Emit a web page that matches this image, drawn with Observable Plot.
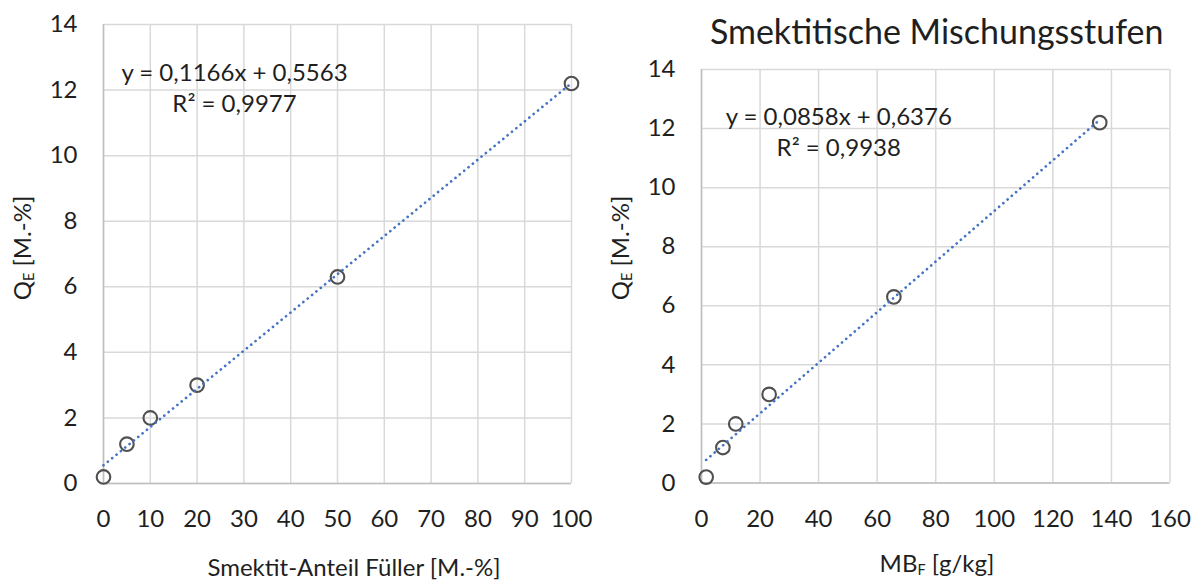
<!DOCTYPE html>
<html><head><meta charset="utf-8">
<script src="https://cdn.jsdelivr.net/npm/d3@7"></script>
<script src="https://cdn.jsdelivr.net/npm/@observablehq/plot@0.6"></script>
<style>
body{margin:0;background:#fff;font-family:Lato,"Open Sans",sans-serif;}
#wrap{position:relative;width:1199px;height:580px;overflow:hidden;background:#fff;}
.panel{position:absolute;top:0;}
.lbl{position:absolute;color:#1f1f1f;font-size:24px;white-space:nowrap;transform:translate(-50%,-50%);line-height:1;}
.ylbl{transform:translate(-50%,-50%) rotate(-90deg);}
.title{font-size:34px;}
sub{font-size:60%;vertical-align:-0.2em;line-height:0;}
</style></head><body>
<div id="wrap"></div>
<script>
// ---- data ----
const qE = [0.2, 1.2, 2.0, 3.0, 6.3, 12.2];
const smektitAnteil = [0, 5, 10, 20, 50, 100];
const mbF = [1.6, 7.3, 11.7, 23.1, 65.7, 136.0];
const yTicks = [0, 2, 4, 6, 8, 10, 12, 14];
const leftXTicks = [0, 10, 20, 30, 40, 50, 60, 70, 80, 90, 100];
const rightXTicks = [0, 20, 40, 60, 80, 100, 120, 140, 160];
const leftEq = ["y = 0,1166x + 0,5563", "R² = 0,9977"];
const rightEq = ["y = 0,0858x + 0,6376", "R² = 0,9938"];
const titleText = "Smektitische Mischungsstufen";
const leftXTitle = "Smektit-Anteil Füller [M.-%]";

const leftData = smektitAnteil.map((x, i) => ({x, y: qE[i]}));
const rightData = mbF.map((x, i) => ({x, y: qE[i]}));

const TXT = "#1f1f1f";
function panel({data, xDomain, xTicks, eq, width, mL, mR, mT, mB, eqDx, eqDy}) {
  return Plot.plot({
    width, height: 580,
    marginLeft: mL, marginRight: mR, marginTop: mT, marginBottom: mB,
    style: {fontFamily: "Lato, 'Open Sans', sans-serif", fontSize: "24px", color: TXT, background: "transparent"},
    x: {domain: xDomain, ticks: xTicks, tickSize: 0, tickPadding: 26.5, label: null},
    y: {domain: [0, 14], ticks: yTicks, tickSize: 0, tickPadding: 26, label: null},
    marks: [
      Plot.ruleX(xTicks, {stroke: "#d9d9d9", strokeWidth: 1.5}),
      Plot.ruleY(yTicks, {stroke: "#d9d9d9", strokeWidth: 1.5}),
      Plot.ruleX([xDomain[0]], {stroke: "#bfbfbf", strokeWidth: 1.5}),
      Plot.ruleY([0], {stroke: "#bfbfbf", strokeWidth: 1.5}),
      Plot.dot(data, {x: "x", y: "y", r: 6.8, stroke: "#505050", strokeWidth: 2.1, fill: "none"}),
      Plot.linearRegressionY(data, {x: "x", y: "y", ci: 0, stroke: "#4472c4", strokeWidth: 2.7, strokeLinecap: "round", strokeDasharray: "0.01,5.6"}),
      Plot.text([eq.join("\n")], {text: d => d, frameAnchor: "top", lineAnchor: "middle", dx: eqDx, dy: eqDy, lineHeight: 1.32, fontSize: 24, fill: TXT})
    ]
  });
}

const wrap = document.getElementById("wrap");
const left = panel({data: leftData, xDomain: [0, 100], xTicks: leftXTicks, eq: leftEq, width: 600,
  mL: 103, mR: 29, mT: 24, mB: 97, eqDx: -103, eqDy: 62});
left.classList.add("panel"); left.style.left = "0px";
wrap.appendChild(left);

const right = panel({data: rightData, xDomain: [0, 160], xTicks: rightXTicks, eq: rightEq, width: 599,
  mL: 101, mR: 29.5, mT: 69, mB: 97.5, eqDx: -97, eqDy: 61});
right.classList.add("panel"); right.style.left = "600px";
wrap.appendChild(right);

function label(html, x, y, cls) {
  const d = document.createElement("div");
  d.className = "lbl " + (cls || "");
  d.style.left = x + "px"; d.style.top = y + "px";
  d.innerHTML = html;
  wrap.appendChild(d);
}
label(titleText, 936.7, 31, "title");
label(leftXTitle, 354, 566.5);
label("MB<sub>F</sub> [g/kg]", 937, 563);
label("Q<sub>E</sub> [M.-%]", 22, 248, "ylbl");
label("Q<sub>E</sub> [M.-%]", 620, 248, "ylbl");
</script>
</body></html>
